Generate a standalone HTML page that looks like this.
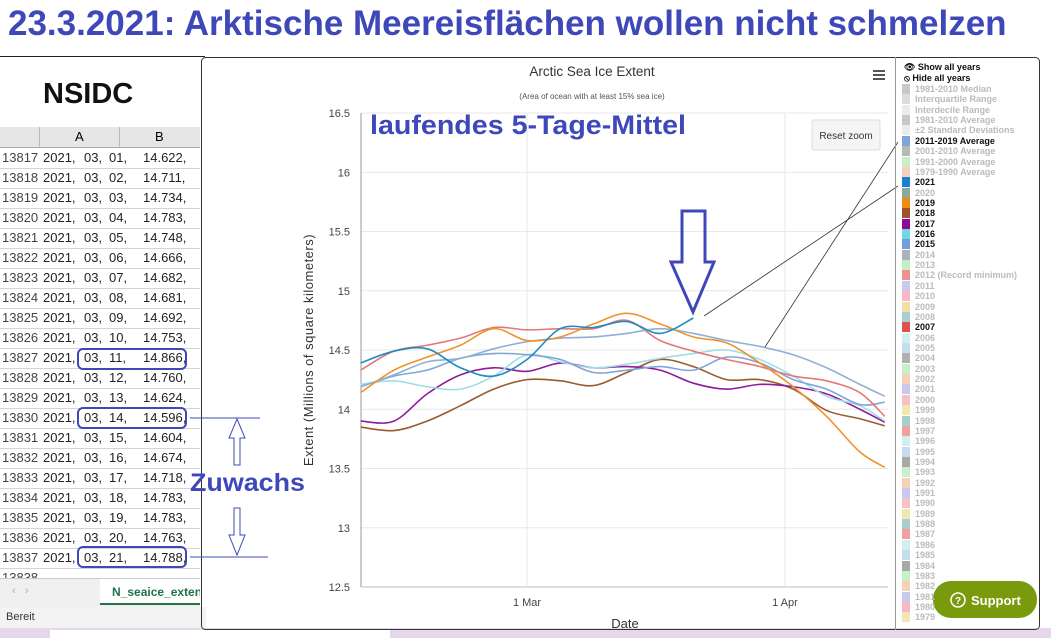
<!DOCTYPE html>
<html><head><meta charset="utf-8"><style>
body{margin:0;width:1051px;height:638px;overflow:hidden;background:#fff;font-family:"Liberation Sans",sans-serif;position:relative}
.abs{position:absolute}
#title{left:8px;top:4px;font-size:35px;font-weight:bold;color:#3f48b8;white-space:nowrap;transform-origin:0 0;transform:scaleX(1.0)}
.row{position:absolute;left:0;width:200px;height:20px;border-bottom:1px solid #d4d4d4;font-size:13px;line-height:20px;color:#222}
.row span{position:absolute}
.leg{position:absolute;left:902px;font-size:9px;line-height:10px;white-space:nowrap;color:#bbb;font-weight:bold}
.leg i{display:inline-block;width:8px;height:10px;vertical-align:top;margin-right:5px}
.leg.on{color:#111}
</style></head><body>
<div id="title" class="abs">23.3.2021: Arktische Meereisflächen wollen nicht schmelzen</div>
<div class="abs" style="left:0;top:56px;width:205px;height:1px;background:#222"></div>
<div class="abs" style="left:43px;top:78px;font-size:29px;font-weight:bold;color:#111">NSIDC</div>
<div class="abs" style="left:0;top:127px;width:200px;height:500px;background:#fff">
 <div class="abs" style="left:0;top:0;width:200px;height:20px;background:#e6e6e6;border-bottom:1px solid #aaa;font-size:13px;line-height:20px">
  <span class="abs" style="left:75px">A</span><span class="abs" style="left:155px">B</span>
  <div class="abs" style="left:39px;top:0;width:1px;height:20px;background:#bbb"></div>
  <div class="abs" style="left:119px;top:0;width:1px;height:20px;background:#bbb"></div>
 </div>
 <div id="rows"></div>
 <div class="abs" style="left:0;top:451px;width:200px;height:28px;background:#f0f0f0;border-top:1px solid #ccc">
  <span class="abs" style="left:12px;top:6px;color:#aaa;font-size:11px">‹ &nbsp; ›</span>
  <div class="abs" style="left:100px;top:0;width:100px;height:26px;background:#fff;border-bottom:2px solid #217346;color:#217346;font-weight:bold;font-size:12px;line-height:26px;padding-left:12px;box-sizing:border-box;white-space:nowrap;overflow:hidden">N_seaice_exten</div>
 </div>
 <div class="abs" style="left:0;top:480px;width:200px;height:21px;background:#f3f3f3;font-size:11px;line-height:21px;padding-left:6px;color:#333">Bereit</div>
</div>
<div class="abs" style="left:0;top:628px;width:1051px;height:10px;background:#e4d8ea"><div class="abs" style="left:50px;top:2px;width:340px;height:8px;background:#fff"></div></div>

<svg class="abs" style="left:0;top:0" width="1051" height="638" id="chart">
 <rect x="201.5" y="57.5" width="838" height="572" rx="4" fill="none" stroke="#333"/>
 <text x="592" y="76" font-size="13.5" text-anchor="middle" fill="#333">Arctic Sea Ice Extent</text>
 <text x="592" y="99" font-size="8" text-anchor="middle" fill="#555">(Area of ocean with at least 15% sea ice)</text>
 <g fill="#555"><rect x="873" y="70" width="12" height="2"/><rect x="873" y="74" width="12" height="2"/><rect x="873" y="78" width="12" height="2"/></g>
 <g id="grid"></g><g id="series"></g>
 <text transform="translate(313,350) rotate(-90)" font-size="13" text-anchor="middle" fill="#333" letter-spacing="0.5">Extent (Millions of square kilometers)</text>
 <text x="625" y="628" font-size="13" text-anchor="middle" fill="#333">Date</text>
 <g><rect x="812" y="120" width="68" height="30" rx="2" fill="#f5f5f5" stroke="#ddd"/><text x="846" y="139" font-size="10" text-anchor="middle" fill="#333">Reset zoom</text></g>
 <text x="370" y="134" font-size="27" font-weight="bold" fill="#3f48b8" textLength="316" lengthAdjust="spacingAndGlyphs">laufendes 5-Tage-Mittel</text>
 <path d="M682,211 H705 V262 H714 L693,312 L671,262 H682 Z" fill="none" stroke="#3f48b8" stroke-width="3"/>
 <line x1="704" y1="316" x2="898" y2="186" stroke="#333" stroke-width="0.8"/>
 <line x1="765" y1="347" x2="898" y2="142" stroke="#333" stroke-width="0.8"/>
 <g stroke="#3f48b8" stroke-width="2" fill="none">
  <rect x="78" y="349" width="108" height="20" rx="5"/><rect x="78" y="408" width="108" height="20" rx="5"/><rect x="78" y="547" width="108" height="20" rx="5"/>
 </g>
 <line x1="190" y1="418" x2="260" y2="418" stroke="#3f48b8"/>
 <line x1="190" y1="557" x2="268" y2="557" stroke="#3f48b8"/>
 <path d="M237,419 L245,438 H240 V465 H234 V438 H229 Z" fill="none" stroke="#3f48b8"/>
 <path d="M234,508 H240 V535 H245 L237,555 L229,535 H234 Z" fill="none" stroke="#3f48b8"/>
 <text x="190" y="491" font-size="25" font-weight="bold" fill="#3f48b8" textLength="115" lengthAdjust="spacingAndGlyphs">Zuwachs</text>
 <line x1="895.5" y1="57" x2="895.5" y2="630" stroke="#999"/>
 <g><rect x="933" y="581" width="104" height="37" rx="18" fill="#7a9a0e"/><circle cx="958" cy="600" r="7" fill="none" stroke="#fff" stroke-width="1.5"/><text x="958" y="604" font-size="10" fill="#fff" text-anchor="middle" font-weight="bold">?</text><text x="971" y="605" font-size="13" font-weight="bold" fill="#fff">Support</text></g>
</svg>
<div id="legend"></div>

<script>
// spreadsheet data
const rowNums=[13817,13818,13819,13820,13821,13822,13823,13824,13825,13826,13827,13828,13829,13830,13831,13832,13833,13834,13835,13836,13837];
const cellVals=[14.622,14.711,14.734,14.783,14.748,14.666,14.682,14.681,14.692,14.753,14.866,14.760,14.624,14.596,14.604,14.674,14.718,14.783,14.783,14.763,14.788];
const rowsEl=document.getElementById('rows');
rowNums.forEach((n,i)=>{
 const r=document.createElement('div');r.className='row';r.style.top=(21+i*20)+'px';
 
 
 const d=String(i+1).padStart(2,'0');
 r.innerHTML='<span style="left:2px;color:#444">'+n+'</span><span style="left:43px">2021,</span><span style="left:84px">03,</span><span style="left:109px">'+d+',</span><span style="left:143px">'+cellVals[i].toFixed(3)+',</span>';
 rowsEl.appendChild(r);
});
const r2=document.createElement('div');r2.className='row';r2.style.top=(21+21*20)+'px';r2.style.height='10px';r2.style.overflow='hidden';


r2.innerHTML='<span style="left:2px;color:#444">13838</span>';rowsEl.appendChild(r2);

// chart data (days relative to 1 Mar)
const days=[-20,-16,-12,-8,-4,0,4,8,12,16,20,24,28,32,36,40,43];
const s2021=[14.39,14.49,14.51,14.35,14.28,14.42,14.68,14.69,14.74,14.64,14.77];
const s2019=[14.14,14.33,14.44,14.54,14.68,14.58,14.61,14.72,14.81,14.72,14.61,14.56,14.39,14.19,13.94,13.64,13.51];
const s2007=[14.33,14.49,14.54,14.60,14.69,14.67,14.68,14.68,14.75,14.58,14.49,14.42,14.36,14.28,14.24,14.14,13.94];
const sAvg=[14.19,14.29,14.40,14.43,14.51,14.57,14.60,14.61,14.64,14.68,14.64,14.58,14.53,14.46,14.35,14.21,14.11];
const s2016=[14.21,14.24,14.19,14.17,14.28,14.46,14.40,14.35,14.38,14.43,14.47,14.50,14.42,14.28,14.11,14.03,13.90];
const s2015=[14.19,14.28,14.33,14.43,14.47,14.46,14.42,14.31,14.33,14.36,14.33,14.44,14.39,14.25,14.17,14.04,14.06];
const s2017=[13.90,13.90,14.13,14.29,14.35,14.32,14.39,14.35,14.36,14.33,14.22,14.17,14.21,14.19,14.13,14.00,13.89];
const s2018=[13.85,13.82,13.90,14.03,14.17,14.25,14.24,14.20,14.31,14.42,14.36,14.25,14.25,14.17,13.99,13.92,13.86];
const yTicks=[12.5,13,13.5,14,14.5,15,15.5,16,16.5];
const xTicks=[0,31];const xTickLabels=['1 Mar','1 Apr'];

const X=d=>527+d*8.32, Y=v=>113+(16.5-v)*118.5;
const NS='http://www.w3.org/2000/svg';
const grid=document.getElementById('grid'), ser=document.getElementById('series');
function mk(tag,attrs,parent){const e=document.createElementNS(NS,tag);for(const k in attrs)e.setAttribute(k,attrs[k]);parent.appendChild(e);return e;}
yTicks.forEach(v=>{
 const l=mk('line',{x1:361,x2:888,y1:Y(v),y2:Y(v),stroke:v===12.5?'#bbb':'#e8e8e8'},grid);
 
 
 const t=mk('text',{x:350,y:Y(v)+4,'font-size':11,'text-anchor':'end',fill:'#444'},grid);t.textContent=v;
 
 
});
xTicks.forEach((d,i)=>{
 const l=mk('line',{x1:X(d),x2:X(d),y1:113,y2:587,stroke:'#e8e8e8'},grid);
 
 
 const t=mk('text',{x:X(d),y:606,'font-size':11,'text-anchor':'middle',fill:'#444'},grid);t.textContent=xTickLabels[i];
 
 
});
const ax=mk('line',{x1:361,x2:361,y1:113,y2:587,stroke:'#999'},grid);


function smooth(pts){let d='M'+pts[0][0]+','+pts[0][1];for(let i=1;i<pts.length;i++){const p0=pts[i-2]||pts[i-1],p1=pts[i-1],p2=pts[i],p3=pts[i+1]||p2;
 d+=' C'+(p1[0]+(p2[0]-p0[0])/6)+','+(p1[1]+(p2[1]-p0[1])/6)+' '+(p2[0]-(p3[0]-p1[0])/6)+','+(p2[1]-(p3[1]-p1[1])/6)+' '+p2[0]+','+p2[1];}return d;}
const seriesList=[[s2018,'#9b5a2e','line-2018'],[s2017,'#8e1a9c','line-2017'],[s2016,'#9fdde6','line-2016'],[s2015,'#7fa6da','line-2015'],[s2007,'#e07a76','line-2007'],[sAvg,'#8fb0d6','line-2011-2019-average'],[s2019,'#f0922c','line-2019'],[s2021,'#1f8cc0','line-2021']];
seriesList.forEach(([arr,c,n])=>{
 const pts=arr.map((v,i)=>[X(days[i]),Y(v)]);
 const p=mk('path',{d:smooth(pts),fill:'none',stroke:c,'stroke-width':1.6},ser);
 
 
});

// legend
const legend=document.getElementById('legend');
const top2=[['👁 Show all years',62,true],['⦸ Hide all years',73,true]];
top2.forEach(([t,y])=>{const e=document.createElement('div');e.className='leg on';e.style.top=y+'px';e.style.left='904px';e.textContent=t;
 
 legend.appendChild(e);});
const entries=[['1981-2010 Median','#c8c8c8',0],['Interquartile Range','#dcdcdc',0],['Interdecile Range','#ececec',0],['1981-2010 Average','#c8c8c8',0],['±2 Standard Deviations','#ececec',0],['2011-2019 Average','#7fa6da',1],['2001-2010 Average','#b8b8b8',0],['1991-2000 Average','#c8efc8',0],['1979-1990 Average','#f8d0c0',0],
['2021','#1a7fd0',1],['2020','#8fa89a',0],['2019','#f08a10',1],['2018','#a0522d',1],['2017','#8b0a9b',1],['2016','#70d8e0',1],['2015','#6fa0dc',1],['2014','#b0b0b8',0],['2013','#c0f0c0',0],['2012 (Record minimum)','#f09090',0],['2011','#c8c8f0',0],['2010','#f8b8c8',0],['2009','#f0e0a8',0],['2008','#a8d0d0',0],['2007','#e05050',1],['2006','#d0f0f0',0],['2005','#c8dcf0',0],['2004','#b0b0b0',0],['2003','#c8f0c8',0],['2002','#f8d0b8',0],['2001','#c8c8f0',0],['2000','#f8c0c8',0],['1999','#f0e8b0',0],['1998','#a8d0c8',0],['1997','#f0a0a0',0],['1996','#d0f0f0',0],['1995','#c8dcf0',0],['1994','#a8a8a8',0],['1993','#c8f0c8',0],['1992','#f8d0b8',0],['1991','#c8c8f0',0],['1990','#f8c0c8',0],['1989','#f0e8b0',0],['1988','#a8d0c8',0],['1987','#f0a0a0',0],['1986','#d0f0f0',0],['1985','#c8dcf0',0],['1984','#a8a8a8',0],['1983','#c8f0c8',0],['1982','#f8d0b8',0],['1981','#c8c8f0',0],['1980','#f8b8c8',0],['1979','#f0e8b0',0]];
entries.forEach(([t,c,on],i)=>{const e=document.createElement('div');e.className='leg'+(on?' on':'');e.style.top=(84+i*10.36)+'px';
 e.innerHTML='<i style="background:'+c+'"></i>'+t;
 
 legend.appendChild(e);});
</script>
</body></html>
